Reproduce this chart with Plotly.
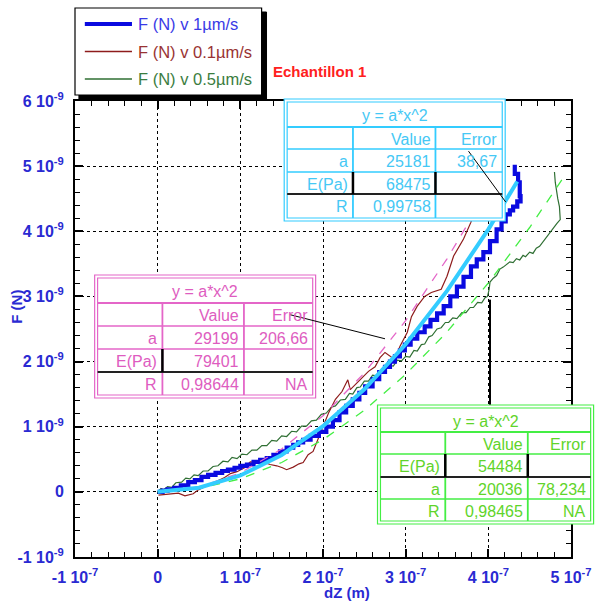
import plotly.graph_objects as go
import numpy as np

XS = 1e-7
YS = 1e-9

# ---- data (x in 1e-7 m, y in 1e-9 N) ----
blue_x = [0.00,0.06,0.12,0.20,0.28,0.37,0.45,0.53,0.61,0.70,0.78,0.85,0.93,1.00,1.08,1.16,1.24,1.32,1.40,1.48,
          1.56,1.64,1.70,1.76,1.85,1.95,2.04,2.12,2.20,2.28,2.36,2.44,2.51,2.60,2.68,2.75,2.81,2.87,2.93,2.99,
          3.06,3.14,3.23,3.30,3.38,3.46,3.54,3.62,3.70,3.79,3.86,3.94,4.02,4.10,4.16,4.21,4.26,4.30,4.35,4.39,
          4.38,4.38,4.36,4.32]
blue_y = [0.00,0.02,0.04,0.06,0.10,0.15,0.18,0.23,0.26,0.29,0.32,0.34,0.37,0.40,0.42,0.46,0.49,0.52,0.57,0.62,
          0.68,0.72,0.76,0.80,0.86,0.92,1.00,1.10,1.22,1.32,1.42,1.52,1.62,1.73,1.84,1.92,2.00,2.08,2.17,2.26,
          2.35,2.45,2.54,2.64,2.74,2.85,3.00,3.15,3.30,3.46,3.57,3.68,3.85,4.03,4.15,4.26,4.32,4.38,4.46,4.54,
          4.66,4.75,4.88,5.02]

brown_x = [0.01,0.13,0.25,0.33,0.43,0.49,0.57,0.67,0.73,0.81,0.88,0.96,1.05,1.12,1.20,1.29,1.36,1.44,1.51,1.56,
           1.64,1.71,1.76,1.82,1.88,1.94,2.00,2.07,2.15,2.23,2.30,2.33,2.39,2.48,2.55,2.63,2.69,2.75,2.81,2.87,
           2.93,3.02,3.07,3.14,3.23,3.31,3.43,3.50,3.58,3.64,3.70,3.79,3.85]
brown_y = [-0.05,-0.03,-0.02,-0.06,-0.03,0.03,0.08,0.14,0.18,0.22,0.28,0.31,0.37,0.46,0.45,0.45,0.42,0.40,0.37,0.34,
           0.38,0.43,0.45,0.57,0.62,0.80,1.00,1.22,1.42,1.54,1.72,1.57,1.65,1.77,1.85,1.92,2.06,2.14,2.08,2.03,
           2.23,2.45,2.69,2.85,3.00,3.06,3.11,3.31,3.62,3.75,3.88,4.14,4.42]

green_x = [0.00,0.04,0.07,0.12,0.17,0.22,0.29,0.34,0.39,0.44,0.49,0.55,0.61,0.67,0.73,0.79,0.85,0.90,0.96,1.02,
           1.08,1.14,1.20,1.26,1.32,1.38,1.44,1.50,1.56,1.62,1.68,1.74,1.80,1.86,1.92,1.98,2.04,2.10,2.15,2.21,
           2.27,2.32,2.36,2.41,2.45,2.50,2.55,2.60,2.65,2.70,2.75,2.80,2.85,2.90,2.95,3.00,3.05,3.10,3.14,3.19,
           3.23,3.28,3.32,3.38,3.43,3.48,3.52,3.57,3.62,3.68,3.73,3.78,3.82,3.87,3.92,3.96,3.99,4.01,4.02,4.06,
           4.10,4.14,4.18,4.21,4.26,4.30,4.34,4.38,4.42,4.45,4.50,4.54,4.58,4.62,4.66,4.69,4.73,4.77,4.80,4.83,
           4.87,4.86,4.86,4.84,4.83,4.82,4.81,4.80]
green_y = [0.00,0.05,0.03,0.08,0.07,0.14,0.15,0.21,0.20,0.26,0.25,0.32,0.32,0.39,0.40,0.47,0.46,0.53,0.51,0.58,
           0.57,0.64,0.64,0.71,0.71,0.79,0.78,0.86,0.85,0.93,0.92,1.01,1.01,1.09,1.10,1.19,1.21,1.30,1.32,1.41,
           1.42,1.51,1.50,1.60,1.61,1.70,1.70,1.79,1.78,1.87,1.86,1.94,1.93,2.02,2.01,2.08,2.07,2.17,2.16,2.26,
           2.27,2.38,2.40,2.50,2.52,2.60,2.60,2.67,2.66,2.75,2.75,2.83,2.83,2.91,2.90,2.98,3.00,3.11,3.22,3.28,
           3.32,3.42,3.45,3.48,3.53,3.52,3.58,3.56,3.63,3.61,3.68,3.66,3.74,3.77,3.84,3.88,3.96,4.03,4.08,4.12,
           4.18,4.30,4.38,4.50,4.57,4.66,4.75,4.91]

# fitted curves
cyan_x = [0.0,0.5,1.0,1.5,2.0,2.5,3.0,3.5,4.0,4.35]
cyan_y = [0.0,0.063,0.252,0.567,1.007,1.574,2.266,3.085,4.029,4.765]
pink_x = [0.0,0.5,1.0,1.5,2.0,2.5,3.0,3.5,3.8]
pink_y = [0.0,0.073,0.292,0.657,1.168,1.825,2.628,3.577,4.216]
lgreen_x = [0.0,0.5,1.0,1.5,2.0,2.5,3.0,3.5,4.0,4.5,4.9]
lgreen_y = [0.0,0.050,0.200,0.451,0.801,1.252,1.803,2.454,3.206,4.058,4.81]

x_ticks = [-1, 0, 1, 2, 3, 4, 5]
x_ticktext = ["-1 10<sup>-7</sup>", "0", "1 10<sup>-7</sup>", "2 10<sup>-7</sup>", "3 10<sup>-7</sup>",
              "4 10<sup>-7</sup>", "5 10<sup>-7</sup>"]
y_ticks = [-1, 0, 1, 2, 3, 4, 5, 6]
y_ticktext = ["-1 10<sup>-9</sup>", "0", "1 10<sup>-9</sup>", "2 10<sup>-9</sup>", "3 10<sup>-9</sup>",
              "4 10<sup>-9</sup>", "5 10<sup>-9</sup>", "6 10<sup>-9</sup>"]

legend_names = ["F (N) v 1µm/s", "F (N) v 0.1µm/s", "F (N) v 0.5µm/s"]

cyan_table = [["", "Value", "Error"], ["a", "25181", "38,67"], ["E(Pa)", "68475", ""], ["R", "0,99758", ""]]
pink_table = [["", "Value", "Error"], ["a", "29199", "206,66"], ["E(Pa)", "79401", ""], ["R", "0,98644", "NA"]]
green_table = [["", "Value", "Error"], ["E(Pa)", "54484", ""], ["a", "20036", "78,234"], ["R", "0,98465", "NA"]]
fit_title = "y = a*x^2"

def sx(v):
    return [a * XS for a in v]

def sy(v):
    return [a * YS for a in v]

BLUE = "#0a0ae0"
CYAN = "#33ccff"
BROWN = "#8e1c1c"
DGREEN = "#2f6f33"
PINK = "#e466c8"
LGREEN = "#44ee44"
LABEL = "#2a2ad2"
FONT = "Liberation Sans, Arial, sans-serif"

fig = go.Figure()
fig.add_trace(go.Scatter(x=sx(green_x), y=sy(green_y), mode="lines", line=dict(color=DGREEN, width=1.2)))
fig.add_trace(go.Scatter(x=sx(brown_x), y=sy(brown_y), mode="lines", line=dict(color=BROWN, width=1.2)))
fig.add_trace(go.Scatter(x=sx(blue_x), y=sy(blue_y), mode="lines", line=dict(color=BLUE, width=4.2, shape="hv")))
fig.add_trace(go.Scatter(x=sx(pink_x), y=sy(pink_y), mode="lines", line=dict(color=PINK, width=1.3, dash="dash")))
fig.add_trace(go.Scatter(x=sx(lgreen_x), y=sy(lgreen_y), mode="lines", line=dict(color=LGREEN, width=1.3, dash="dash")))
fig.add_trace(go.Scatter(x=sx(cyan_x), y=sy(cyan_y), mode="lines", line=dict(color=CYAN, width=4)))

L, R, T, B = 75, 580, 101, 557
def PX(x):
    return (x - L) / (R - L)
def PY(y):
    return (B - y) / (B - T)

shapes = []
annotations = []

def rect(x0, y0, x1, y1, color, width=1, fill=None):
    shapes.append(dict(type="rect", xref="paper", yref="paper", x0=PX(x0), x1=PX(x1), y0=PY(y1), y1=PY(y0),
                       line=dict(color=color, width=width), fillcolor=fill, layer="above"))

def seg(x0, y0, x1, y1, color, width=1):
    shapes.append(dict(type="line", xref="paper", yref="paper", x0=PX(x0), x1=PX(x1), y0=PY(y0), y1=PY(y1),
                       line=dict(color=color, width=width), layer="above"))

def text(x, y, s, color, size=16, xanchor="center", bold=False):
    if bold:
        s = "<b>" + s + "</b>"
    annotations.append(dict(xref="paper", yref="paper", x=PX(x), y=PY(y), text=s, showarrow=False,
                            xanchor=xanchor, yanchor="middle", font=dict(family=FONT, size=size, color=color)))

def table(outer, rows, cols, color, cells, tcolor, black_h, black_v):
    x0, y0, x1, y1 = outer
    rect(x0, y0, x1, y1, color, 1.2, "white")
    rect(cols[0], rows[0], cols[-1], rows[-1], color, 1.2, None)
    for r in rows[1:-1]:
        seg(cols[0], r, cols[-1], r, color, 1.5)
    for c in cols[1:-1]:
        seg(c, rows[1], c, rows[-1], color, 1.8)
    seg(cols[0], rows[1], cols[-1], rows[1], color, 2.2)
    for (r, ) in black_h:
        seg(cols[0], rows[r], cols[-1], rows[r], "#222222", 1.8)
    for (c, r) in black_v:
        seg(cols[c], rows[r], cols[c], rows[r + 1], "black", 2.5)
    text((cols[0] + cols[-1]) / 2, (rows[0] + rows[1]) / 2 + 1, fit_title, tcolor)
    for i, row in enumerate(cells):
        yc = (rows[i + 1] + rows[i + 2]) / 2 + 1
        for j, s in enumerate(row):
            if s:
                text(cols[j + 1] - 3, yc, s, tcolor, xanchor="right")

# cyan table (1 µm/s)
table((288, 99, 513, 221), [102, 127, 149, 172, 194, 218], [291, 358, 442, 510], CYAN, cyan_table, "#45c8f5",
      [(4,)], [(1, 3), (2, 3)])
# pink table (0.1 µm/s)
table((95, 275, 320, 398), [278, 303, 326, 349, 372, 395], [98, 164, 247, 317], PINK, pink_table, "#de5cc0",
      [(4,)], [(1, 3)])
# green table (0.5 µm/s)
table((383, 405, 603, 524), [408, 432, 454, 477, 499, 521], [386, 452, 536, 600], LGREEN, green_table, "#5fd42a",
      [(3,)], [(1, 2), (2, 2)])

# leader lines (data coordinates)
lead_x = [[3.76, 4.21], [1.60, 2.75], [4.02, 4.02]]
lead_y = [[5.23, 4.45], [2.72, 2.35], [2.95, 1.34]]
for lx, ly, w in zip(lead_x, lead_y, [1, 1, 2]):
    shapes.append(dict(type="line", xref="x", yref="y", x0=lx[0] * XS, x1=lx[1] * XS, y0=ly[0] * YS, y1=ly[1] * YS,
                       line=dict(color="black", width=w), layer="above"))

# legend box with shadow
rect(79, 12, 270, 99, "black", 1, "black")
rect(75, 8, 265, 95, "black", 1.2, "white")
leg_cols = [BLUE, BROWN, DGREEN]
leg_tcols = ["#3a3ae6", "#993333", "#3b7d3f"]
leg_w = [4, 1.3, 1.3]
for i, (nm, c, tc, w) in enumerate(zip(legend_names, leg_cols, leg_tcols, leg_w)):
    yy = 24 + i * 27.5
    seg(85, yy, 133, yy, c, w)
    text(137, yy, nm, tc, size=16.5, xanchor="left")

text(275, 72, "Echantillon 1", "#ff2020", size=15, xanchor="left", bold=True)

# axis titles
annotations.append(dict(xref="paper", yref="paper", x=PX(4), y=PY(307), text="<b>F (N)</b>", textangle=-90,
                        showarrow=False, xanchor="left", yanchor="middle",
                        font=dict(family=FONT, size=15, color=LABEL)))
text(352, 592, "dZ (m)", LABEL, size=15, bold=True)

axis_common = dict(showline=True, linewidth=2, linecolor="black", mirror="ticks", ticks="inside", ticklen=8,
                   tickwidth=1.5, tickcolor="black", showgrid=True, gridcolor="black", griddash="dot",
                   gridwidth=1, zeroline=False,
                   tickfont=dict(family=FONT, size=16, color=LABEL, weight="bold"))

fig.update_xaxes(range=[-1 * XS, 5 * XS], tickvals=sx(x_ticks), ticktext=x_ticktext,
                 minor=dict(ticks="inside", ticklen=5, tickcolor="black", tickwidth=1.2, tick0=0, dtick=0.2 * XS,
                            showgrid=False),
                 ticklabelstandoff=5, **axis_common)
fig.update_yaxes(range=[-1 * YS, 6 * YS], tickvals=sy(y_ticks), ticktext=y_ticktext,
                 minor=dict(ticks="inside", ticklen=5, tickcolor="black", tickwidth=1.2, tick0=0, dtick=0.2 * YS,
                            showgrid=False),
                 ticklabelstandoff=6, **axis_common)

fig.update_layout(width=604, height=604, margin=dict(l=L, r=604 - R, t=T, b=604 - B),
                  paper_bgcolor="white", plot_bgcolor="white", showlegend=False,
                  shapes=shapes, annotations=annotations)

fig.write_html("out.html")
